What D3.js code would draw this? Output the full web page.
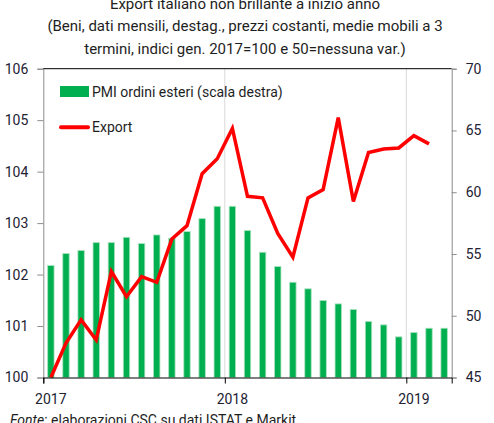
<!DOCTYPE html>
<html>
<head>
  <title>Export italiano</title>
<script type="text/javascript" src="https://d3js.org/d3.v7.min.js"></script>
<style>
  body { margin: 0; background: #fff; }
  svg text { font-family: Roboto, "Noto Sans", sans-serif; }
</style>
</head>
<body>
  <div class="chart"></div>
</body>

<script type="text/javascript">

    // months from gen 2017 to mar 2019
    const months = ["2017-01","2017-02","2017-03","2017-04","2017-05","2017-06",
        "2017-07","2017-08","2017-09","2017-10","2017-11","2017-12",
        "2018-01","2018-02","2018-03","2018-04","2018-05","2018-06",
        "2018-07","2018-08","2018-09","2018-10","2018-11","2018-12",
        "2019-01","2019-02","2019-03"];

    // PMI ordini esteri (right scale)
    const pmi = [54.06,55.03,55.28,55.92,55.92,56.35,55.84,56.54,56.27,56.81,57.86,58.86,
        58.86,56.89,55.14,53.98,52.71,52.18,51.23,50.96,50.50,49.53,49.26,48.29,
        48.64,48.99,48.99];

    // Export index (left scale), ends feb 2019
    const exportIdx = [100.0,100.67,101.12,100.73,102.06,101.57,101.96,101.85,102.69,102.95,103.96,104.25,
        104.84,103.52,103.49,102.80,102.34,103.49,103.65,105.05,103.42,104.37,104.44,104.46,
        104.70,104.54];

    const years = ["2017","2018","2019"];
    const leftTicks = [100,101,102,103,104,105,106];
    const rightTicks = [45,50,55,60,65,70];

    const width = 494, height = 423;
    const plot = {left: 43.3, right: 451.7, top: 68.7, bottom: 377.5};

    const svg = d3.select(".chart").append("svg")
        .attr("width", width)
        .attr("height", height);

    const x = d3.scaleLinear()
        .domain([0, months.length])
        .range([plot.left, plot.right]);

    const yLeft = d3.scaleLinear()
        .domain([100, 106])
        .range([plot.bottom, plot.top]);

    const yRight = d3.scaleLinear()
        .domain([45, 70])
        .range([plot.bottom, plot.top]);

    // titles
    const titles = svg.append("g").attr("text-anchor", "middle").attr("fill", "#1e1e1e");
    titles.append("text").attr("x", 245).attr("y", 9).style("font-size", "15px")
        .text("Export italiano non brillante a inizio anno");
    titles.append("text").attr("x", 245).attr("y", 31).style("font-size", "15px")
        .text("(Beni, dati mensili, destag., prezzi costanti, medie mobili a 3");
    titles.append("text").attr("x", 245).attr("y", 54).style("font-size", "15px")
        .text("termini, indici gen. 2017=100 e 50=nessuna var.)");

    // vertical grid at the years
    svg.selectAll(".vgrid")
        .data([12, 24])
        .enter()
        .append("line")
        .attr("class", "vgrid")
        .attr("x1", d => x(d)).attr("x2", d => x(d))
        .attr("y1", plot.top).attr("y2", plot.bottom)
        .attr("stroke", "#d9d9d9")
        .attr("stroke-width", 1);

    // bars
    svg.selectAll(".bars")
        .data(pmi)
        .enter()
        .append("rect")
        .attr("class", "bars")
        .attr("x", (d, i) => x(i + 0.5) - 3.2)
        .attr("width", 6.4)
        .attr("y", d => yRight(d))
        .attr("height", d => yRight(45) - yRight(d))
        .style("fill", "#00B050")
        .style("stroke", "#a9e2bd")
        .style("stroke-width", 0.8);

    // export line
    const line = d3.line()
        .x((d, i) => x(i + 0.5))
        .y(d => yLeft(d));

    svg.append("path")
        .datum(exportIdx)
        .attr("d", line)
        .attr("fill", "none")
        .attr("stroke", "#FF0000")
        .attr("stroke-width", 3.5)
        .attr("stroke-linejoin", "miter");

    // axes
    const leftAxis = svg.append("g")
        .attr("transform", "translate(" + plot.left + ",0)")
        .call(d3.axisLeft(yLeft).tickValues(leftTicks).tickSize(6).tickPadding(9).tickFormat(d3.format("d")));

    const rightAxis = svg.append("g")
        .attr("transform", "translate(" + plot.right + ",0)")
        .call(d3.axisRight(yRight).tickValues(rightTicks).tickSize(5).tickPadding(9).tickFormat(d3.format("d")));

    [leftAxis, rightAxis].forEach(a => {
        a.select(".domain").attr("stroke", "#8c8c8c");
        a.selectAll(".tick line").attr("stroke", "#8c8c8c");
        a.selectAll("text").style("font-size", "14px").attr("fill", "#222233");
    });

    const bottomAxis = svg.append("g")
        .attr("transform", "translate(0," + plot.bottom + ")")
        .call(d3.axisBottom(x).tickValues([0, 12, 24]).tickSize(6).tickFormat(""));
    bottomAxis.select(".domain").attr("stroke", "#000");
    bottomAxis.selectAll(".tick line").attr("stroke", "#000");

    svg.selectAll(".year")
        .data(years)
        .enter()
        .append("text")
        .attr("class", "year")
        .attr("x", (d, i) => x(i * 12 + 0.5))
        .attr("y", 404)
        .attr("text-anchor", "middle")
        .attr("fill", "#222233")
        .style("font-size", "14px")
        .text(d => d);

    // top border
    svg.append("line")
        .attr("x1", plot.left).attr("x2", plot.right)
        .attr("y1", plot.top).attr("y2", plot.top)
        .attr("stroke", "#000");

    // legend
    const legend = svg.append("g").style("font-size", "14px").attr("fill", "#1e1e1e");
    legend.append("rect")
        .attr("x", 60).attr("y", 86).attr("width", 29).attr("height", 11)
        .style("fill", "#00B050");
    legend.append("text").attr("x", 92).attr("y", 96.5)
        .text("PMI ordini esteri (scala destra)");
    legend.append("line")
        .attr("x1", 61).attr("x2", 88).attr("y1", 127.3).attr("y2", 127.3)
        .attr("stroke", "#FF0000").attr("stroke-width", 4).attr("stroke-linecap", "round");
    legend.append("text").attr("x", 92).attr("y", 132)
        .text("Export");

    // source
    const src = svg.append("text").attr("x", 10).attr("y", 425)
        .attr("fill", "#1e1e1e").style("font-size", "14px");
    src.append("tspan").style("font-style", "italic").text("Fonte");
    src.append("tspan").text(": elaborazioni CSC su dati ISTAT e Markit");

</script>
</html>
